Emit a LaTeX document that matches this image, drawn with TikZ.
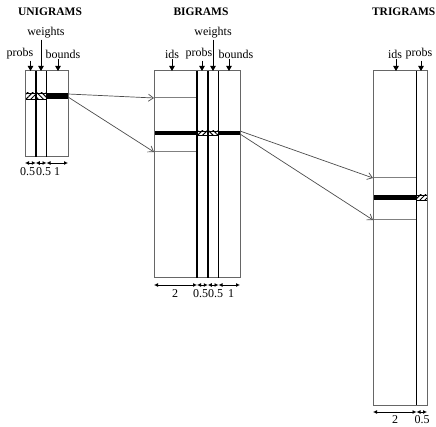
\documentclass[tikz,border=0pt]{standalone}
\usepackage{fontspec}
\setmainfont{Liberation Serif}
\usetikzlibrary{arrows.meta,patterns.meta}

\begin{document}
\begin{tikzpicture}[x=1pt, y=-1pt,
    title/.style={font=\bfseries\fontsize{11.5}{13}\selectfont, inner sep=0pt},
    lbl/.style={font=\fontsize{12}{13}\selectfont, inner sep=1pt},
    dimlbl/.style={font=\fontsize{12}{13}\selectfont, inner sep=0pt},
    frame/.style={draw=gray!80!black, line width=1pt},
    divider/.style={draw=black, line width=1.5pt},
    idline/.style={draw=gray, line width=1pt},
    ptr/.style={draw=black, line width=0.8pt, -{Triangle[length=5pt,width=5.5pt]}},
    dim/.style={line width=0.8pt, {Latex[length=4pt,width=4pt]}-{Latex[length=4pt,width=4pt]}},
    link/.style={draw=gray!60!black, line width=0.7pt, -{Straight Barb[length=5pt,width=7pt]}},
    hatchr/.style={pattern={Lines[angle=45,distance=3.5pt,line width=1pt]}},
    hatchl/.style={pattern={Lines[angle=-45,distance=3.5pt,line width=1pt]}},
    slot/.style={fill=black}]
\useasboundingbox (0,0) rectangle (436,427);

% unigrams
\node[title] (unititle) at (50,12) {UNIGRAMS};
\fill[hatchr] (25,93) rectangle (35.75,99);
\fill[hatchl] (35.75,93) rectangle (46.5,99);
\fill[slot] (46.5,93) rectangle (68,99);
\draw[line width=0.6pt] (25,93) -- (46.5,93) (25,99) -- (46.5,99);
\draw[frame] (25,71) rectangle (68,157);
\draw[divider] (35.75,71) -- (35.75,157);
\draw[divider] (46.5,71) -- (46.5,157);

\node[lbl] (uprobs) at (20,54) {probs};
\node[lbl] (uweights) at (46,33) {weights};
\node[lbl] (ubounds) at (63,54) {bounds};
\coordinate (uprobsT) at (30.5,71);
\coordinate (uweightsT) at (41,71);
\coordinate (uboundsT) at (58,71);
\draw[ptr] (uprobs.south -| uprobsT) -- (uprobsT);
\draw[ptr] (uweights.south -| uweightsT) -- (uweightsT);
\draw[ptr] (ubounds.south -| uboundsT) -- (uboundsT);

\draw[dim] (25,163) -- (35.75,163);
\draw[dim] (35.75,163) -- (46.5,163);
\draw[dim] (46.5,163) -- (68,163);
\node[dimlbl] (udimA) at (27.5,172) {0.5};
\node[dimlbl] (udimB) at (43.5,172) {0.5};
\node[dimlbl] (udimC) at (57,172) {1};

% bigrams
\node[title] (bititle) at (201,12) {BIGRAMS};
\fill[slot] (154,131) rectangle (197,135);
\fill[hatchr] (197,131) rectangle (207.75,135);
\fill[hatchl] (207.75,131) rectangle (218.5,135);
\fill[slot] (218.5,131) rectangle (240,135);
\draw[line width=0.6pt] (197,131) -- (218.5,131) (197,135) -- (218.5,135);
\draw[idline] (154,98) -- (197,98);
\draw[idline] (154,152) -- (197,152);
\draw[frame] (154,71) rectangle (240,278);
\draw[divider] (197,71) -- (197,278);
\draw[divider] (207.75,71) -- (207.75,278);
\draw[divider] (218.5,71) -- (218.5,278);

\node[lbl] (bids) at (172,54) {ids};
\node[lbl] (bprobs) at (199,54) {probs};
\node[lbl] (bweights) at (213,33) {weights};
\node[lbl] (bbounds) at (236,54) {bounds};
\coordinate (bidsT) at (172,71);
\coordinate (bprobsT) at (202,71);
\coordinate (bweightsT) at (213,71);
\coordinate (bboundsT) at (229,71);
\draw[ptr] (bids.south -| bidsT) -- (bidsT);
\draw[ptr] (bprobs.south -| bprobsT) -- (bprobsT);
\draw[ptr] (bweights.south -| bweightsT) -- (bweightsT);
\draw[ptr] (bbounds.south -| bboundsT) -- (bboundsT);

\draw[dim] (154,285) -- (197,285);
\draw[dim] (197,285) -- (207.75,285);
\draw[dim] (207.75,285) -- (218.5,285);
\draw[dim] (218.5,285) -- (240,285);
\node[dimlbl] (bdimA) at (175,294) {2};
\node[dimlbl] (bdimB) at (200.5,294) {0.5};
\node[dimlbl] (bdimC) at (215.5,294) {0.5};
\node[dimlbl] (bdimD) at (231,294) {1};

% trigrams
\node[title, anchor=east] (trititle) at (435.5,12) {TRIGRAMS};
\fill[slot] (373,195) rectangle (416.5,200);
\fill[hatchr] (416.5,195) rectangle (427,200);
\draw[line width=0.6pt] (416.5,195) -- (427,195) (416.5,200) -- (427,200);
\draw[idline] (373,178) -- (416.5,178);
\draw[idline] (373,220) -- (416.5,220);
\draw[frame] (373,71) rectangle (427,405);
\draw[divider] (416.5,71) -- (416.5,405);

\node[lbl] (tids) at (395,54) {ids};
\node[lbl] (tprobs) at (419,54) {probs};
\coordinate (tidsT) at (396,71);
\coordinate (tprobsT) at (421,71);
\draw[ptr] (tids.south -| tidsT) -- (tidsT);
\draw[ptr] (tprobs.south -| tprobsT) -- (tprobsT);

\draw[dim] (373,412) -- (416.5,412);
\draw[dim] (416.5,412) -- (427,412);
\node[dimlbl] (tdimA) at (395,420) {2};
\node[dimlbl] (tdimB) at (422,420) {0.5};

% pointers between levels
\coordinate (urowA) at (68,94);
\coordinate (urowB) at (68,97);
\coordinate (bentryA) at (154,98);
\coordinate (bentryB) at (154,152);
\coordinate (browA) at (240,131);
\coordinate (browB) at (240,134);
\coordinate (tentryA) at (373,178);
\coordinate (tentryB) at (373,220);
\draw[link] (urowA) -- (bentryA);
\draw[link] (urowB) -- (bentryB);
\draw[link] (browA) -- (tentryA);
\draw[link] (browB) -- (tentryB);
\end{tikzpicture}
\end{document}
